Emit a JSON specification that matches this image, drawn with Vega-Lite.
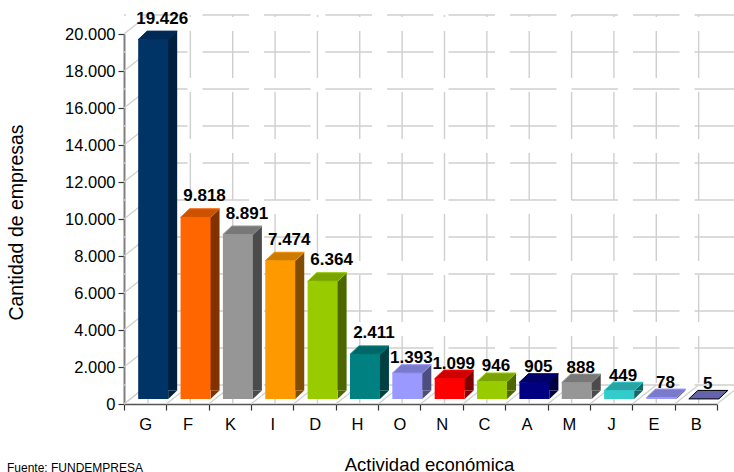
{
"$schema":"https://vega.github.io/schema/vega-lite/v6.json",
"width":593,"height":370,
"autosize":{"type":"none"},
"padding":{"left":124,"top":34,"right":17,"bottom":68},
"background":"white",
"config":{"view":{"stroke":null},"font":"Liberation Sans","locale":{"number":{"decimal":",","thousands":".","grouping":[3],"currency":["",""]}},
"axisY":{"values":[0,2000,4000,6000,8000,10000,12000,14000,16000,18000,20000],"tickCount":11,"labelOverlap":false,"format":",d","labelFontSize":16.5,"labelColor":"#000","labelPadding":3,"tickSize":6,"tickColor":"#333333","tickWidth":1.2,"domainColor":"#808080","domainWidth":2,"grid":false,"titleFontSize":19.5,"titleFontWeight":"normal","titleColor":"#000","titleX":-98,"titleY":188},
"axisX":{"titleFontSize":18.5,"titleFontWeight":"normal","titleColor":"#000","titleX":305,"titleY":51,"labelAngle":0,"labelFontSize":16.5,"labelColor":"#000","labelPadding":6,"tickBand":"extent","tickSize":6,"tickColor":"#333333","tickWidth":1.2,"domainColor":"#555555","domainWidth":1.5,"grid":false}},
"title":{"text":"Fuente: FUNDEMPRESA","orient":"bottom","anchor":"start","frame":"group","dx":-117,"offset":-11,"fontSize":12,"fontWeight":"normal","color":"#000000","font":"Liberation Sans"},
"datasets":{
"bars":[
{"actividad":"G","empresas":19426},{"actividad":"F","empresas":9818},{"actividad":"K","empresas":8891},{"actividad":"I","empresas":7474},{"actividad":"D","empresas":6364},{"actividad":"H","empresas":2411},{"actividad":"O","empresas":1393},{"actividad":"N","empresas":1099},{"actividad":"C","empresas":946},{"actividad":"A","empresas":905},{"actividad":"M","empresas":888},{"actividad":"J","empresas":449},{"actividad":"E","empresas":78},{"actividad":"B","empresas":5}],
"grid":[{"nivel":0},{"nivel":2000},{"nivel":4000},{"nivel":6000},{"nivel":8000},{"nivel":10000},{"nivel":12000},{"nivel":14000},{"nivel":16000},{"nivel":18000},{"nivel":20000}]
},
"encoding":{},
"resolve":{"scale":{"fill":"independent","stroke":"independent"}},
"layer":[
{"data":{"name":"grid"},
 "mark":{"type":"rule","color":"#cfcfcf","strokeWidth":1.4,"xOffset":24,"yOffset":-19,"strokeDash":[46.5,15]},
 "encoding":{"y":{"field":"nivel","type":"quantitative","scale":{"domain":[0,20000],"nice":false},"axis":{"title":"Cantidad de empresas","values":[0,2000,4000,6000,8000,10000,12000,14000,16000,18000,20000]}}}},
{"data":{"name":"bars"},
 "mark":{"type":"rule","color":"#cfcfcf","strokeWidth":1.4,"xOffset":24,"yOffset":-19,"strokeDash":[47,14],"strokeDashOffset":45},
 "encoding":{"x":{"field":"actividad","type":"nominal","bandPosition":0,
   "sort":["G","F","K","I","D","H","O","N","C","A","M","J","E","B"],
   "scale":{"domain":["G","F","K","I","D","H","O","N","C","A","M","J","E","B"],"paddingInner":0,"paddingOuter":0},
   "axis":{"title":"Actividad económica"}}}},
{"data":{"name":"grid"},
 "mark":{"type":"point","shape":"M0,0L24,-19","size":4,"opacity":1,"filled":false,"stroke":"#cfcfcf","strokeWidth":1.2},
 "encoding":{"x":{"datum":"G","type":"nominal","bandPosition":0,"title":"Actividad económica"},"y":{"field":"nivel","type":"quantitative","title":"Cantidad de empresas"}}},
{"data":{"name":"bars"},
 "mark":{"type":"point","shape":"M0,0L24,-19","size":4,"opacity":1,"filled":false,"stroke":"#cfcfcf","strokeWidth":1.2},
 "encoding":{"x":{"field":"actividad","type":"nominal","bandPosition":0,"title":"Actividad económica"},"y":{"datum":0,"type":"quantitative","title":"Cantidad de empresas"}}},
{"data":{"name":"bars"},"transform":[{"filter":"datum.actividad==='B'"}],
 "mark":{"type":"point","shape":"M0,0L24,-19","size":4,"opacity":1,"filled":false,"stroke":"#cfcfcf","strokeWidth":1.2},
 "encoding":{"x":{"field":"actividad","type":"nominal","bandPosition":1,"title":"Actividad económica"},"y":{"datum":0,"type":"quantitative","title":"Cantidad de empresas"}}},
{"data":{"name":"bars"},
 "mark":{"type":"bar","width":30,"xOffset":17,"yOffset":-13.5},
 "encoding":{"x":{"field":"actividad","type":"nominal","title":"Actividad económica"},"y":{"field":"empresas","type":"quantitative","title":"Cantidad de empresas"},
  "fill":{"field":"actividad","type":"nominal","legend":null,"scale":{"domain":["G","F","K","I","D","H","O","N","C","A","M","J","E","B"],"range":["#002040","#803300","#4b4b4b","#804d00","#4d6600","#004040","#4d4d80","#800000","#4d6600","#000040","#4b4b4b","#1a6666","#4d4d80","#333366"]}}}},
{"data":{"name":"bars"},
 "mark":{"type":"point","shape":"M23,-13.5L32,-13.5L23,-5Z","size":4,"opacity":1,"filled":true,"strokeWidth":0},
 "encoding":{"x":{"field":"actividad","type":"nominal","title":"Actividad económica"},"y":{"datum":0,"type":"quantitative","title":"Cantidad de empresas"},
  "fill":{"field":"actividad","type":"nominal","legend":null,"scale":{"domain":["G","F","K","I","D","H","O","N","C","A","M","J","E","B"],"range":["#002040","#803300","#4b4b4b","#804d00","#4d6600","#004040","#4d4d80","#800000","#4d6600","#000040","#4b4b4b","#1a6666","#4d4d80","#333366"]}}}},
{"data":{"name":"bars"},
 "mark":{"type":"bar","width":30,"xOffset":8,"yOffset":-5,"strokeWidth":1},
 "encoding":{"x":{"field":"actividad","type":"nominal","title":"Actividad económica"},"y":{"field":"empresas","type":"quantitative","title":"Cantidad de empresas"},
  "fill":{"field":"actividad","type":"nominal","legend":null,"scale":{"domain":["G","F","K","I","D","H","O","N","C","A","M","J","E","B"],"range":["#003366","#ff6600","#969696","#ff9900","#99cc00","#008080","#9999ff","#ff0000","#99cc00","#000080","#969696","#33cccc","#9999ff","#666699"]}}}},
{"data":{"name":"bars"},
 "mark":{"type":"point","shape":"M-7,-5L2,-13.5L32,-13.5L23,-5Z","size":4,"opacity":1,"filled":true,"strokeWidth":1},
 "encoding":{"x":{"field":"actividad","type":"nominal","title":"Actividad económica"},"y":{"field":"empresas","type":"quantitative","title":"Cantidad de empresas"},
  "fill":{"field":"actividad","type":"nominal","legend":null,"scale":{"domain":["G","F","K","I","D","H","O","N","C","A","M","J","E","B"],"range":["#002a55","#cc5200","#787878","#cc7a00","#7aa300","#006666","#7a7acc","#cc0000","#7aa300","#000066","#787878","#29a3a3","#7a7acc","#6464aa"]}},
  "stroke":{"field":"actividad","type":"nominal","legend":null,"scale":{"domain":["G","F","K","I","D","H","O","N","C","A","M","J","E","B"],"range":["#003366","#ff6600","#969696","#ff9900","#99cc00","#008080","#9999ff","#ff0000","#99cc00","#000080","#969696","#33cccc","#9999ff","#000000"]}}}},
{"data":{"name":"bars"},"transform":[{"filter":"datum.empresas>=2000"}],
 "mark":{"type":"text","fontSize":17,"fontWeight":"bold","color":"#000","dx":17,"dy":-21,"baseline":"alphabetic","align":"center"},
 "encoding":{"x":{"field":"actividad","type":"nominal","title":"Actividad económica"},"y":{"field":"empresas","type":"quantitative","title":"Cantidad de empresas"},"text":{"field":"empresas","type":"quantitative","format":",d"}}},
{"data":{"name":"bars"},"transform":[{"filter":"datum.empresas<2000"}],
 "mark":{"type":"text","fontSize":17,"fontWeight":"bold","color":"#000","dx":12,"dy":-15,"baseline":"alphabetic","align":"center"},
 "encoding":{"x":{"field":"actividad","type":"nominal","title":"Actividad económica"},"y":{"field":"empresas","type":"quantitative","title":"Cantidad de empresas"},"text":{"field":"empresas","type":"quantitative","format":",d"}}}
]
}
